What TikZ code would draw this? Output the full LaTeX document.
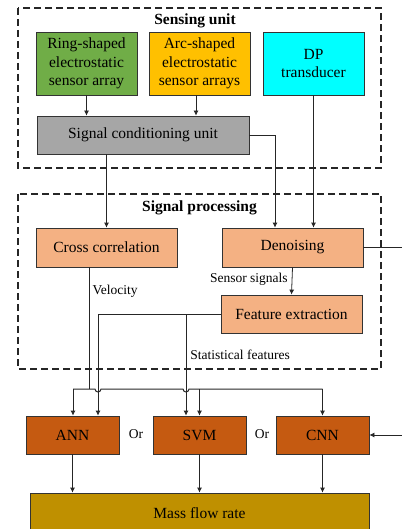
\documentclass[tikz,border=0pt]{standalone}
\usepackage{fontspec}
\setmainfont{Liberation Serif}
\usetikzlibrary{arrows.meta}
\definecolor{cgreen}{HTML}{70AD47}
\definecolor{corange}{HTML}{FFC000}
\definecolor{ccyan}{HTML}{00FFFF}
\definecolor{cgray}{HTML}{A6A6A6}
\definecolor{csalmon}{HTML}{F4B183}
\definecolor{cbrown}{HTML}{C55A11}
\definecolor{cgold}{HTML}{BF9000}
\begin{document}
\begin{tikzpicture}[x=1pt,y=-1pt,
  box/.style={draw=black!80,line width=0.8pt,align=center,inner sep=0pt,
    font=\fontsize{15.5}{18.3}\selectfont},
  lbl/.style={font=\fontsize{13.5}{16}\selectfont,inner sep=0pt},
  ttl/.style={font=\fontsize{15.5}{18}\selectfont\bfseries,inner sep=0pt},
  grp/.style={draw=black!85,line width=1.2pt,dash pattern=on 7pt off 4pt},
  conn/.style={draw=black!85,line width=0.8pt},
  arr/.style={conn,-{Latex[length=5pt,width=5pt]}}]
\useasboundingbox (0,0) rectangle (401,529);
% groups
\draw[grp] (18,8) rectangle (381,168);
\draw[grp] (18,194) rectangle (381,369);
\node[ttl] (t1) at (195,21) {Sensing unit};
\node[ttl] (t2) at (199.5,208) {Signal processing};
% nodes
\node[box,fill=cgreen,minimum width=101,minimum height=63] (ring) at (86.5,63.5) {Ring-shaped\\electrostatic\\sensor array};
\node[box,fill=corange,minimum width=101,minimum height=63] (arc) at (199.5,63.5) {Arc-shaped\\electrostatic\\sensor arrays};
\node[box,fill=ccyan,minimum width=101,minimum height=63] (dp) at (313.5,63.5) {DP\\transducer};
\node[box,fill=cgray,minimum width=212,minimum height=38] (scu) at (143,135) {Signal conditioning unit};
\node[box,fill=csalmon,minimum width=141,minimum height=39] (cc) at (106.5,247.5) {Cross correlation};
\node[box,fill=csalmon,minimum width=141,minimum height=39] (den) at (292.5,247.5) {Denoising};
\node[box,fill=csalmon,minimum width=141,minimum height=38] (fe) at (291.5,314) {Feature extraction};
\node[box,fill=cbrown,minimum width=93,minimum height=38] (ann) at (72.5,435) {ANN};
\node[box,fill=cbrown,minimum width=93,minimum height=38] (svm) at (199.5,435) {SVM};
\node[box,fill=cbrown,minimum width=93,minimum height=38] (cnn) at (322.5,435) {CNN};
\node[box,fill=cgold,minimum width=339,minimum height=44,text depth=0pt] (mfr) at (199.5,515) {\raisebox{4pt}{Mass flow rate}};
\node[lbl] (or1) at (136,434) {Or};
\node[lbl] (or2) at (262,434) {Or};
% coordinates
\coordinate (vj) at (89,389);
\coordinate (bl) at (73,389);
\coordinate (bs) at (199.5,389);
\coordinate (br) at (322.5,389);
\coordinate (fx1) at (98,314);
\coordinate (fx2) at (186,314);
\coordinate (rt) at (404,247.5);
% sensing connectors
\draw[arr] (ring.south) -- (ring.south |- scu.north);
\draw[arr] ([xshift=-3.5pt]arc.south) -- ([xshift=-3.5pt]arc.south |- scu.north);
\draw[arr] (scu.east) -| ([xshift=-17.5pt]den.north);
\draw[arr] (dp.south) -- (dp.south |- den.north);
\draw[arr] (scu.south -| cc.north) -- (cc.north);
% processing
\draw[arr] (den.south) -- node[lbl,left=4pt,pos=0.45] (ss) {Sensor signals} (fe.north);
\draw[arr] (den.east) -- (rt) |- (cnn.east);
\draw[conn,line width=1pt] (cc.south -| vj) -- node[lbl,right=3pt,pos=0.2] (vel) {Velocity} (vj);
\draw[conn] (fe.west) -- (fx1);
\draw[arr] (fx1) -- (fx1 |- ann.north);
\draw[arr] (fx2) -- node[lbl,right=4pt,pos=0.4] (sf) {Statistical features} (fx2 |- svm.north);
% bus with hops
\draw[conn,line width=1pt] (bl) -- (95,389) arc[start angle=180,end angle=0,radius=3] -- (183,389) arc[start angle=180,end angle=0,radius=3] -- (br);
\draw[arr] (bl) -- (ann.north -| bl);
\draw[arr] (bs) -- (svm.north);
\draw[arr] (br) -- (cnn.north);
% to output
\draw[arr] (ann.south) -- (ann.south |- mfr.north);
\draw[arr] (svm.south) -- (svm.south |- mfr.north);
\draw[arr] (cnn.south) -- (cnn.south |- mfr.north);
\end{tikzpicture}
\end{document}
